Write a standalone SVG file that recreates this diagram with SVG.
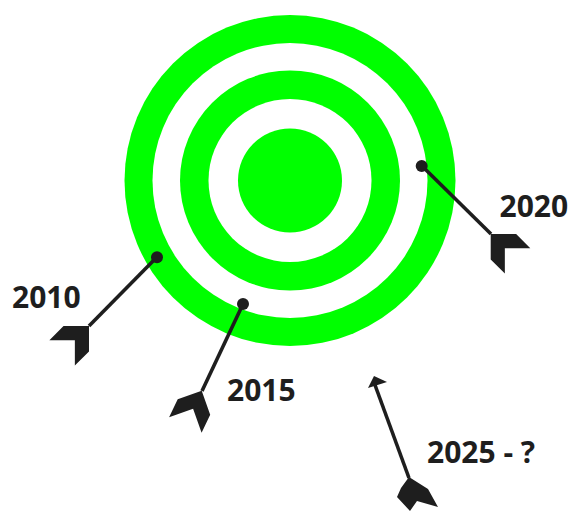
<svg xmlns="http://www.w3.org/2000/svg" width="572" height="512" viewBox="0 0 572 512">
<style>
.g{fill:#00ff00}
.w{fill:#ffffff}
.shaft{stroke:#1e1e1e;stroke-width:3.6;fill:none}
.ink{fill:#1e1e1e}
.lbl{font-family:"Open Sans","Noto Sans",sans-serif;font-weight:700;font-size:30px;fill:#1e1e1e}
</style>
<defs>
<polygon id="fl" points="0,0 -18,-18 -38,-18 -20,0 -38,18 -18,18"/>
</defs>
<rect width="572" height="512" fill="#ffffff"/>
<g id="target">
<circle class="g" cx="290" cy="180.5" r="165.5"/>
<circle class="w" cx="290" cy="180.5" r="137.5"/>
<circle class="g" cx="290" cy="180.5" r="110"/>
<circle class="w" cx="290" cy="180.5" r="81.5"/>
<circle class="g" cx="290" cy="180.5" r="52"/>
</g>
<g id="connectors">
<line class="shaft" x1="157" y1="257" x2="89" y2="326"/>
<line class="shaft" x1="243" y1="304" x2="202" y2="391"/>
<line class="shaft" x1="422" y1="166" x2="491" y2="234"/>
<line class="shaft" x1="409" y1="478" x2="375" y2="385"/>
</g>
<g id="arrow2010">
<circle class="ink" cx="157" cy="257.3" r="6"/>
<use href="#fl" class="ink" transform="translate(89,326) rotate(-45)"/>
<text class="lbl" x="12" y="308">2010</text>
</g>
<g id="arrow2015">
<circle class="ink" cx="243" cy="304" r="6"/>
<use href="#fl" class="ink" transform="translate(201.7,390.7) rotate(-64.5)"/>
<text class="lbl" x="227" y="400.5">2015</text>
</g>
<g id="arrow2020">
<circle class="ink" cx="421.7" cy="166" r="6"/>
<use href="#fl" class="ink" transform="translate(490.7,234) rotate(-135)"/>
<text class="lbl" x="499.5" y="216.5">2020</text>
</g>
<g id="arrow2025">
<polygon class="ink" points="368,388 374,376 387,382"/>
<polygon class="ink" points="409,477 401,488 397,497 410,511 417,501 438,507 428,489"/>
<text class="lbl" x="427" y="462.5">2025 - ?</text>
</g>
</svg>
